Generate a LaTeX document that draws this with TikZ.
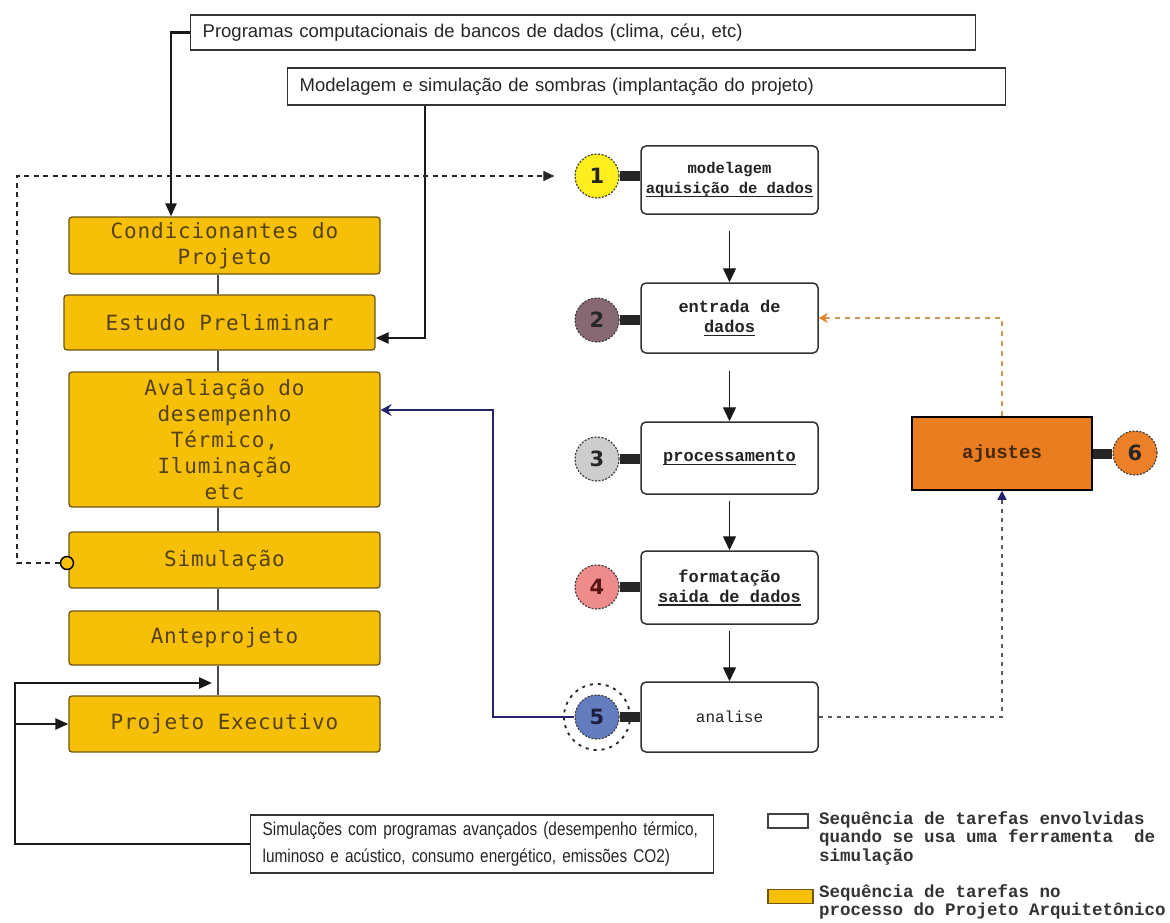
\documentclass[tikz,border=0pt]{standalone}
\usepackage{fontspec}
\setmainfont{Liberation Sans}
\newfontfamily\narrowsans[FakeStretch=0.83]{Liberation Sans}
\newfontfamily\stagemono[LetterSpace=4]{DejaVu Sans Mono}
\newfontfamily\taskmono{Liberation Mono}
\newfontfamily\badgesans{DejaVu Sans}
\usetikzlibrary{arrows.meta}

\definecolor{yfill}{RGB}{246,192,8}
\definecolor{ybord}{RGB}{110,85,20}
\definecolor{ytext}{RGB}{85,65,20}
\definecolor{navy}{RGB}{35,35,110}
\definecolor{orangebox}{RGB}{234,125,32}
\definecolor{orangeline}{RGB}{205,150,90}
\definecolor{orangetip}{RGB}{232,130,30}
\definecolor{tbord}{RGB}{50,50,50}
\definecolor{ttext}{RGB}{35,35,35}
\definecolor{cone}{RGB}{255,238,30}
\definecolor{ctwo}{RGB}{135,105,115}
\definecolor{cthree}{RGB}{205,205,205}
\definecolor{cfour}{RGB}{238,140,140}
\definecolor{cfive}{RGB}{100,125,190}
\definecolor{csix}{RGB}{236,128,40}

\newcommand\stagefont{\stagemono\fontsize{21}{26}\selectfont}
\newcommand\taskfont{\taskmono\bfseries\fontsize{17}{20}\selectfont}
\newcommand\toolfont{\fontsize{18.5}{25}\selectfont}
\newcommand\badgefont{\badgesans\bfseries\fontsize{21}{21}\selectfont}
\newcommand\keyfont{\taskmono\bfseries\fontsize{17.5}{18.5}\selectfont}

% underlined label with a firmer rule than \underline
\newsavebox\ulnbox
\newcommand\uln[1]{\sbox\ulnbox{#1}\rlap{\raisebox{-3.5pt}{\rule{\wd\ulnbox}{1.4pt}}}\usebox\ulnbox}

\begin{document}
\begin{tikzpicture}[x=1pt,y=-1pt,
  stage/.style={draw=ybord, fill=yfill, rounded corners=3pt, line width=1.3pt,
    minimum width=311pt, inner sep=0pt, align=center, text=ytext, font=\stagefont},
  task/.style={draw=tbord, fill=white, rounded corners=5pt, line width=1.5pt,
    minimum width=177pt, inner sep=0pt, align=center, text=ttext, font=\taskfont},
  tool/.style={draw=black!80, fill=white, line width=1.4pt, inner xsep=12pt,
    inner ysep=0pt, align=left, anchor=west, text=black!85, font=\toolfont},
  badge/.style={circle, minimum size=44pt, inner sep=0pt, draw=black!75,
    line width=1.2pt, dash pattern=on 2pt off 1.5pt, text=black!85, font=\badgefont},
  bar/.style={line width=10pt, draw=black!85},
  spine/.style={line width=1.2pt, draw=black!70},
  heavy/.style={line width=2.4pt, draw=black!90, -{Triangle[length=13pt,width=11pt]}},
  stepflow/.style={line width=1.4pt, draw=black!90, -{Triangle[length=14pt,width=13pt]}},
  returnline/.style={line width=1.6pt, draw=black!85, dash pattern=on 5pt off 4.5pt,
    -{Triangle[length=11pt,width=10pt]}},
  feedback/.style={draw=navy, line width=1.8pt, -{Stealth[length=11pt,width=12pt,inset=4pt]}},
  adjustline/.style={draw=orangeline, line width=1.5pt, dash pattern=on 5pt off 5pt,
    -{Stealth[length=9pt,width=10pt,color=orangetip]}},
  resultline/.style={draw=black!65, line width=1.5pt, dash pattern=on 4pt off 5pt,
    -{Triangle[length=9pt,width=9pt,color=navy]}}
]
\useasboundingbox (0,0) rectangle (1170,923);
\fill[white] (0,0) rectangle (1170,923);

% tool boxes
\node[tool, text width=761pt, minimum height=35pt] (prog) at (190,32.5)
  {Programas computacionais de bancos de dados (clima, céu, etc)};
\node[tool, text width=694pt, minimum height=37pt] (modl) at (287,86.5)
  {Modelagem e simulação de sombras (implantação do projeto)};
\node[tool, text width=439pt, minimum height=58pt, font=\narrowsans\fontsize{18.5}{27}\selectfont] (simb) at (250,844)
  {\mbox{Simulações com programas avançados (desempenho térmico,}\\\mbox{luminoso e acústico, consumo energético, emissões CO2)}};

% design process stages
\node[stage, minimum height=57pt] (cond) at (224.5,245.5) {Condicionantes do\\Projeto};
\node[stage, minimum height=55pt] (estudo) at (219.5,322.5) {Estudo Preliminar};
\node[stage, minimum height=135pt] (aval) at (224.5,439.5) {Avaliação do\\desempenho\\Térmico,\\Iluminação\\etc};
\node[stage, minimum height=56pt] (simul) at (224.5,560) {Simulação};
\node[stage, minimum height=54pt] (ante) at (224.5,638) {Anteprojeto};
\node[stage, minimum height=56pt] (exec) at (224.5,724) {Projeto Executivo};

\coordinate (spinex) at (218,0);
\draw[spine] (cond.south -| spinex) -- (estudo.north -| spinex);
\draw[spine] (estudo.south -| spinex) -- (aval.north -| spinex);
\draw[spine] (aval.south -| spinex) -- (simul.north -| spinex);
\draw[spine] (simul.south -| spinex) -- (ante.north -| spinex);
\draw[spine] (ante.south -| spinex) -- (exec.north -| spinex);

% simulation tasks
\node[task, minimum height=68pt, font=\taskmono\bfseries\fontsize{15.5}{20}\selectfont] (b1) at (729.5,180)
  {modelagem\\\uln{aquisição de dados}};
\node[task, minimum height=70pt] (b2) at (729.5,318) {entrada de\\\uln{dados}};
\node[task, minimum height=72pt] (b3) at (729.5,458) {\uln{processamento}};
\node[task, minimum height=73pt] (b4) at (729.5,587.5) {formatação\\\uln{saida de dados}};
\node[task, minimum height=70pt, font=\taskmono\fontsize{16}{20}\selectfont] (b5) at (729.5,717) {analise};

\node[draw=black, fill=orangebox, line width=1.5pt, minimum width=180pt, minimum height=73pt,
  inner sep=0pt, text={rgb,255:red,70;green,40;blue,10}, font=\taskmono\bfseries\fontsize{19}{20}\selectfont]
  (ajustes) at (1002,453.5) {ajustes};

% numbered badges
\node[circle, minimum size=66pt, draw=black!85, line width=1.8pt, dash pattern=on 3pt off 5pt] (c5ring) at (597,717) {};
\node[badge, fill=cone] (c1) at (597,176) {1};
\node[badge, fill=ctwo] (c2) at (597,320) {2};
\node[badge, fill=cthree] (c3) at (597,459) {3};
\node[badge, fill=cfour, text={rgb,255:red,90;green,20;blue,20}] (c4) at (597,587) {4};
\node[badge, fill=cfive, text={rgb,255:red,30;green,30;blue,60}] (c5) at (597,717) {5};
\node[badge, fill=csix] (c6) at (1135,453) {6};

\draw[bar] (c1.east) -- (c1.east -| b1.west);
\draw[bar] (c2.east) -- (c2.east -| b2.west);
\draw[bar] (c3.east) -- (c3.east -| b3.west);
\draw[bar] (c4.east) -- (c4.east -| b4.west);
\draw[bar] (c5.east) -- (c5.east -| b5.west);
\draw[bar] (ajustes.east) -- (ajustes.east -| c6.west);

% task sequence
\draw[stepflow] ([yshift=-16pt]b1.south) -- (b2.north);
\draw[stepflow] ([yshift=-17pt]b2.south) -- (b3.north);
\draw[stepflow] ([yshift=-6pt]b3.south) -- (b4.north);
\draw[stepflow] ([yshift=-6pt]b4.south) -- (b5.north);

% inputs from the tool boxes
\coordinate (progdrop) at (171,0);
\draw[heavy] (prog.west) -| (progdrop |- cond.north);
\coordinate (modldrop) at (425,0);
\draw[heavy] (modl.south -| modldrop) |- ([yshift=-15.5pt]estudo.east);

\coordinate (feedtop) at (15,683);
\draw[heavy] (simb.west) -| (feedtop) -- ([xshift=-6pt]feedtop -| spinex);
\draw[heavy] (feedtop |- exec.west) -- (exec.west);

% loop from the simulation stage to the first task
\node[circle, draw=black, line width=1.4pt, fill=yfill, minimum size=13pt, inner sep=0pt] (simport) at (67,563) {};
\coordinate (loopcorner) at (17,176);
\draw[returnline] (simport.west) -| (loopcorner) -- ([xshift=-20pt]c1.west);

% evaluation and adjustment feedback
\coordinate (fbturn) at (493,410);
\draw[feedback] (c5.west) -| (fbturn) -- (fbturn -| aval.east);
\draw[adjustline] (ajustes.north) |- (b2.east);
\draw[resultline] (b5.east) -| (ajustes.south);

% key
\node[draw=black!75, fill=white, line width=1.3pt, minimum width=40pt, minimum height=14pt, inner sep=0pt] (keytask) at (788,821) {};
\node[anchor=north west, font=\keyfont, align=left, inner sep=0pt, text=black!80] (keytasktext) at (819,811)
  {Sequência de tarefas envolvidas\\quando se usa uma ferramenta\ \ de\\simulação};
\node[draw=ybord, fill=yfill, line width=1.3pt, minimum width=45pt, minimum height=14pt, inner sep=0pt] (keystage) at (790.5,896.5) {};
\node[anchor=north west, font=\keyfont, align=left, inner sep=0pt, text=black!80] (keystagetext) at (819,884)
  {Sequência de tarefas no\\processo do Projeto Arquitetônico};
\end{tikzpicture}
\end{document}
